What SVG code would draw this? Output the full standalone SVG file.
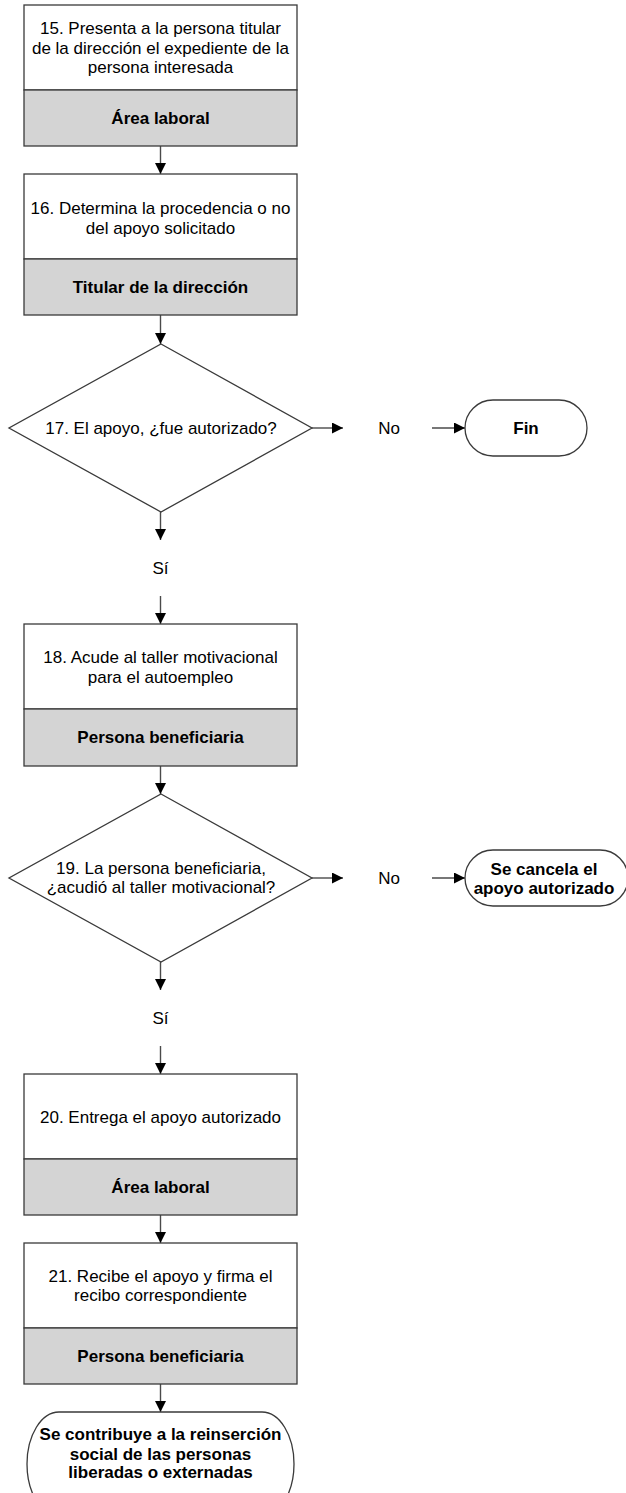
<svg xmlns="http://www.w3.org/2000/svg" width="626" height="1493" viewBox="0 0 626 1493">
<style>
.bx{fill:#ffffff;stroke:#3a3a3a;stroke-width:1.3}
.gr{fill:#d4d4d4;stroke:#3a3a3a;stroke-width:1.3}
.t{font-family:"Liberation Sans",Arial,sans-serif;font-size:17px;fill:#000;text-anchor:middle}
.b{font-weight:bold}
.c{fill:none;stroke:#4a4a4a;stroke-width:1.4}
</style>
<defs>
<marker id="ah" viewBox="0 0 11 11" refX="11" refY="5.5" markerWidth="11" markerHeight="11" markerUnits="userSpaceOnUse" orient="auto">
<path d="M0,0 L11,5.5 L0,11 Z" fill="#000"/>
</marker>
</defs>
<rect width="626" height="1493" fill="#ffffff"/>
<g id="connectors">
<line class="c" x1="160.5" y1="146" x2="160.5" y2="174" marker-end="url(#ah)"/>
<line class="c" x1="160.5" y1="315" x2="160.5" y2="344" marker-end="url(#ah)"/>
<line class="c" x1="312" y1="428" x2="343" y2="428" marker-end="url(#ah)"/>
<line class="c" x1="432" y1="428" x2="465" y2="428" marker-end="url(#ah)"/>
<line class="c" x1="160.5" y1="512" x2="160.5" y2="540" marker-end="url(#ah)"/>
<line class="c" x1="160.5" y1="596" x2="160.5" y2="624" marker-end="url(#ah)"/>
<line class="c" x1="160.5" y1="766" x2="160.5" y2="794" marker-end="url(#ah)"/>
<line class="c" x1="312" y1="878" x2="343" y2="878" marker-end="url(#ah)"/>
<line class="c" x1="432" y1="878" x2="465" y2="878" marker-end="url(#ah)"/>
<line class="c" x1="160.5" y1="962" x2="160.5" y2="990" marker-end="url(#ah)"/>
<line class="c" x1="160.5" y1="1046" x2="160.5" y2="1074" marker-end="url(#ah)"/>
<line class="c" x1="160.5" y1="1215" x2="160.5" y2="1243" marker-end="url(#ah)"/>
<line class="c" x1="160.5" y1="1384" x2="160.5" y2="1412" marker-end="url(#ah)"/>
<text class="t" x="389" y="434">No</text>
<text class="t" x="160.5" y="574">Sí</text>
<text class="t" x="389" y="884">No</text>
<text class="t" x="160.5" y="1024">Sí</text>
</g>
<g id="n15">
<rect class="bx" x="24" y="5" width="273" height="85"/>
<rect class="gr" x="24" y="90" width="273" height="56"/>
<text class="t" x="160.5" y="34">15. Presenta a la persona titular</text>
<text class="t" x="160.5" y="54">de la dirección el expediente de la</text>
<text class="t" x="160.5" y="73">persona interesada</text>
<text class="t b" x="160.5" y="124">Área laboral</text>
</g>
<g id="n16">
<rect class="bx" x="24" y="174" width="273" height="85"/>
<rect class="gr" x="24" y="259" width="273" height="56"/>
<text class="t" x="160.5" y="214">16. Determina la procedencia o no</text>
<text class="t" x="160.5" y="234">del apoyo solicitado</text>
<text class="t b" x="160.5" y="293">Titular de la dirección</text>
</g>
<g id="n17">
<polygon class="bx" points="161,344 312,428 161,512 9,428"/>
<text class="t" x="161" y="434">17. El apoyo, ¿fue autorizado?</text>
</g>
<g id="fin">
<rect class="bx" x="465" y="400" width="122" height="56" rx="28" ry="28"/>
<text class="t b" x="526" y="434">Fin</text>
</g>
<g id="n18">
<rect class="bx" x="24" y="624" width="273" height="85"/>
<rect class="gr" x="24" y="709" width="273" height="57"/>
<text class="t" x="160.5" y="663">18. Acude al taller motivacional</text>
<text class="t" x="160.5" y="683">para el autoempleo</text>
<text class="t b" x="160.5" y="743">Persona beneficiaria</text>
</g>
<g id="n19">
<polygon class="bx" points="161,794 312,878 161,962 9,878"/>
<text class="t" x="161" y="874">19. La persona beneficiaria,</text>
<text class="t" x="161" y="893">¿acudió al taller motivacional?</text>
</g>
<g id="cancela">
<rect class="bx" x="465" y="850" width="163" height="56" rx="28" ry="28"/>
<text class="t b" x="544" y="875">Se cancela el</text>
<text class="t b" x="544" y="894">apoyo autorizado</text>
</g>
<g id="n20">
<rect class="bx" x="24" y="1074" width="273" height="85"/>
<rect class="gr" x="24" y="1159" width="273" height="56"/>
<text class="t" x="160.5" y="1123">20. Entrega el apoyo autorizado</text>
<text class="t b" x="160.5" y="1193">Área laboral</text>
</g>
<g id="n21">
<rect class="bx" x="24" y="1243" width="273" height="85"/>
<rect class="gr" x="24" y="1328" width="273" height="56"/>
<text class="t" x="160.5" y="1282">21. Recibe el apoyo y firma el</text>
<text class="t" x="160.5" y="1301">recibo correspondiente</text>
<text class="t b" x="160.5" y="1362">Persona beneficiaria</text>
</g>
<g id="final">
<rect class="bx" x="27" y="1412" width="267" height="104" rx="32" ry="52"/>
<text class="t b" x="160.5" y="1440">Se contribuye a la reinserción</text>
<text class="t b" x="160.5" y="1460">social de las personas</text>
<text class="t b" x="160.5" y="1478">liberadas o externadas</text>
</g>
</svg>
